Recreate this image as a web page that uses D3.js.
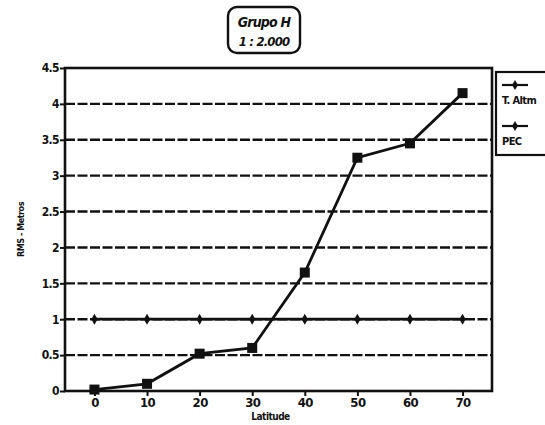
<!DOCTYPE html>
<html>
<head>
<meta charset="utf-8">
<script src="https://cdn.jsdelivr.net/npm/d3@7"></script>
<style>
  html, body { margin: 0; padding: 0; background: #ffffff; }
  svg { display: block; font-family: "DejaVu Sans Condensed", "Liberation Sans Narrow", "Liberation Sans", Arial, sans-serif; }
</style>
</head>
<body>
<svg id="chart" width="545" height="425"></svg>
<script>
// Data
const categories = [0, 10, 20, 30, 40, 50, 60, 70];
const tAltm = [0.02, 0.1, 0.52, 0.6, 1.65, 3.25, 3.45, 4.15];
const pec = [1, 1, 1, 1, 1, 1, 1, 1];
const yTicks = [0, 0.5, 1, 1.5, 2, 2.5, 3, 3.5, 4, 4.5];
const yTickLabels = ["0", "0.5", "1", "1.5", "2", "2.5", "3", "3.5", "4", "4.5"];
const seriesNames = ["T. Altm", "PEC"];
const titleLines = ["Grupo H", "1 : 2.000"];
const yLabel = "RMS - Metros";
const xLabel = "Latitude";

const svg = d3.select("#chart");
const ink = "#111";
const fontFam = "DejaVu Sans Condensed, Liberation Sans Narrow, Liberation Sans, Arial, sans-serif";

const pLeft = 65, pRight = 492, pTop = 68, pBottom = 391;

const x = d3.scalePoint().domain(categories).range([pLeft, pRight]).padding(0.56);
const y = d3.scaleLinear().domain([0, 4.5]).range([pBottom, pTop]);

// dashed gridlines
svg.append("g").selectAll("line")
  .data(yTicks.filter(v => v > 0 && v < 4.5))
  .join("line")
  .attr("x1", pLeft).attr("x2", pRight)
  .attr("y1", d => y(d)).attr("y2", d => y(d))
  .attr("stroke", ink).attr("stroke-width", 2.4)
  .attr("stroke-dasharray", "10,2.5");

// frame
svg.append("rect")
  .attr("x", pLeft).attr("y", pTop)
  .attr("width", pRight - pLeft).attr("height", pBottom - pTop)
  .attr("fill", "none").attr("stroke", ink).attr("stroke-width", 2.6);

// y axis
const yAxis = d3.axisLeft(y).tickValues(yTicks)
  .tickFormat((d, i) => yTickLabels[i]).tickSize(5).tickPadding(1);
const gy = svg.append("g").attr("transform", `translate(${pLeft},0)`).call(yAxis);
gy.select(".domain").remove();
gy.selectAll("line").attr("stroke", ink).attr("stroke-width", 2);
gy.selectAll("text").attr("font-size", 12).attr("font-weight", "bold")
  .attr("fill", ink).attr("font-family", fontFam)
  .attr("letter-spacing", -0.6);

// x axis
const xAxis = d3.axisBottom(x).tickSize(5).tickPadding(2);
const gx = svg.append("g").attr("transform", `translate(0,${pBottom})`).call(xAxis);
gx.select(".domain").remove();
gx.selectAll("line").attr("stroke", ink).attr("stroke-width", 2);
gx.selectAll("text").attr("font-size", 13).attr("font-weight", "bold")
  .attr("fill", ink).attr("font-family", fontFam)
  .attr("letter-spacing", -0.6);

// lines
const line = d3.line().x((d, i) => x(categories[i])).y(d => y(d));
svg.append("path").datum(pec).attr("d", line)
  .attr("fill", "none").attr("stroke", ink).attr("stroke-width", 2.8);
svg.append("path").datum(tAltm).attr("d", line)
  .attr("fill", "none").attr("stroke", ink).attr("stroke-width", 2.8);

// markers
svg.append("g").selectAll("path")
  .data(pec).join("path")
  .attr("transform", (d, i) => `translate(${x(categories[i])},${y(d)})`)
  .attr("d", d3.symbol().type(d3.symbolDiamond).size(34))
  .attr("fill", ink);
svg.append("g").selectAll("rect")
  .data(tAltm).join("rect")
  .attr("x", (d, i) => x(categories[i]) - 5)
  .attr("y", d => y(d) - 5)
  .attr("width", 10).attr("height", 10)
  .attr("fill", ink);

// title box
svg.append("rect").attr("x", 228).attr("y", 7).attr("width", 72).attr("height", 46)
  .attr("rx", 9).attr("fill", "#fff").attr("stroke", ink).attr("stroke-width", 2.4);
svg.append("text").attr("x", 264).attr("y", 27).attr("text-anchor", "middle")
  .attr("font-size", 14).attr("font-weight", "bold").attr("font-style", "italic")
  .attr("font-family", fontFam)
  .attr("letter-spacing", -0.8).attr("fill", ink).text(titleLines[0]);
svg.append("text").attr("x", 264).attr("y", 46).attr("text-anchor", "middle")
  .attr("font-size", 13).attr("font-weight", "bold").attr("font-style", "italic")
  .attr("font-family", fontFam)
  .attr("letter-spacing", -0.8).attr("fill", ink).text(titleLines[1]);

// axis titles
svg.append("text").attr("transform", `translate(24,${(pTop + pBottom) / 2}) rotate(-90)`)
  .attr("text-anchor", "middle").attr("font-size", 9).attr("font-weight", "bold")
  .attr("font-family", fontFam)
  .attr("letter-spacing", -0.5).attr("fill", ink).text(yLabel);
svg.append("text").attr("x", (pLeft + pRight) / 2 - 8).attr("y", 420).attr("text-anchor", "middle")
  .attr("font-size", 10).attr("font-weight", "bold")
  .attr("font-family", fontFam)
  .attr("letter-spacing", -0.5).attr("fill", ink).text(xLabel);

// legend
svg.append("rect").attr("x", 496).attr("y", 72).attr("width", 60).attr("height", 83)
  .attr("fill", "#fff").attr("stroke", ink).attr("stroke-width", 2.2);
const legY = [85, 126];
const markerTypes = [d3.symbolDiamond, d3.symbolDiamond];
seriesNames.forEach((name, i) => {
  svg.append("line").attr("x1", 502).attr("x2", 528)
    .attr("y1", legY[i]).attr("y2", legY[i])
    .attr("stroke", ink).attr("stroke-width", 2.2);
  svg.append("path").attr("transform", `translate(515,${legY[i]})`)
    .attr("d", d3.symbol().type(markerTypes[i]).size(30))
    .attr("fill", ink);
  svg.append("text").attr("x", 502).attr("y", legY[i] + 19)
    .attr("font-size", 11).attr("font-weight", "bold").attr("letter-spacing", -0.6)
    .attr("font-family", fontFam)
    .attr("fill", ink).text(name);
});
</script>
</body>
</html>
